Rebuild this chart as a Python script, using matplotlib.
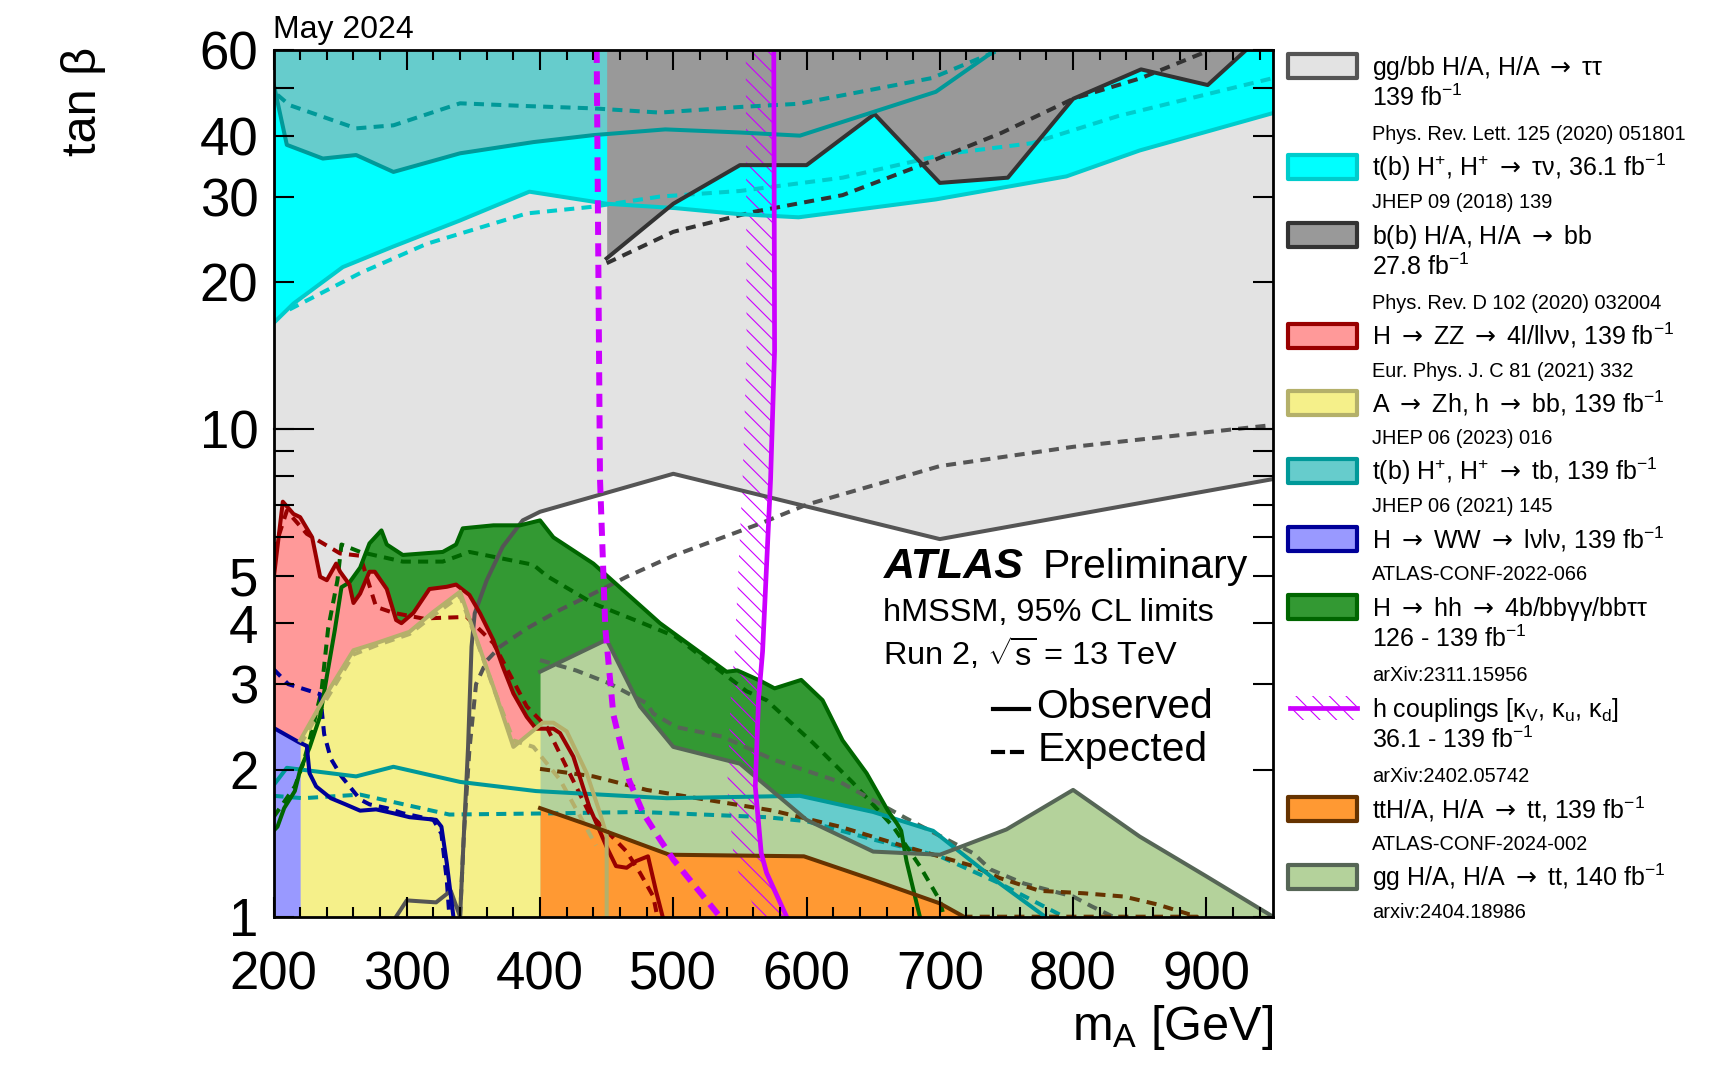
import numpy as np
import matplotlib
matplotlib.use("Agg")
import matplotlib.pyplot as plt
import matplotlib.transforms as mtransforms
from matplotlib.patches import Rectangle
from matplotlib.lines import Line2D
from matplotlib.ticker import FixedLocator, MultipleLocator, NullFormatter

plt.rcParams["font.family"] = ["Liberation Sans", "DejaVu Sans"]
plt.rcParams["mathtext.fontset"] = "custom"
plt.rcParams["mathtext.rm"] = "Liberation Sans"
plt.rcParams["mathtext.it"] = "Liberation Sans:italic"
plt.rcParams["mathtext.bf"] = "Liberation Sans:bold"
plt.rcParams["mathtext.sf"] = "DejaVu Sans"
plt.rcParams["hatch.linewidth"] = 0.8
plt.rcParams["hatch.color"] = "#cc00ff"

# ----------------------------------------------------------
# Exclusion contours (m_A [GeV], tan beta)
# ----------------------------------------------------------

# gg/bb H/A -> tautau
tautau_obs_x = [292, 300, 322, 333, 340, 342.4, 346, 348.6, 351, 360, 372, 387, 400, 500, 700, 950]
tautau_obs_y = [1.0, 1.08, 1.07, 1.13, 1.0, 1.39, 2.23, 3.58, 4.19, 4.9, 5.74, 6.5, 6.77, 8.1, 5.95, 7.9]
tautau_exp_x = [340, 343, 347, 352, 360, 370, 390, 415, 440, 465, 500, 565, 600, 700, 800, 950]
tautau_exp_y = [1.0, 1.5, 2.2, 3.0, 3.35, 3.58, 3.9, 4.26, 4.6, 4.98, 5.5, 6.4, 7.0, 8.4, 9.2, 10.2]

# t(b)H+, H+ -> taunu
taunu_obs_x = [200, 215, 252, 290, 340, 392, 450, 502, 550, 594, 697, 795, 850, 950]
taunu_obs_y = [16.5, 18.1, 21.5, 23.7, 26.8, 30.7, 29.0, 28.4, 27.6, 27.2, 29.6, 33.0, 37.3, 44.5]
taunu_exp_x = [212, 265, 315, 390, 440, 490, 550, 627, 705, 769, 834, 950]
taunu_exp_y = [17.6, 20.9, 24.0, 27.7, 28.6, 30.0, 30.8, 32.8, 36.7, 38.6, 43.9, 52.5]

# b(b) H/A -> bb
bb_obs_x = [450, 500, 550, 600, 651, 700, 751, 800, 851, 901, 930]
bb_obs_y = [22.4, 29.0, 34.8, 34.8, 44.3, 32.0, 32.8, 47.6, 54.7, 50.8, 60.0]
bb_exp_x = [450, 500, 560, 627, 692, 746, 800, 851, 896, 903]
bb_exp_y = [21.9, 25.4, 27.9, 30.2, 35.3, 40.5, 47.6, 52.5, 58.9, 60.0]

# t(b)H+, H+ -> tb (high and low tan beta)
tb_high_obs_x = [200, 210, 237, 262, 290, 340, 395, 440, 494, 550, 595, 697, 742]
tb_high_obs_y = [51.2, 38.3, 35.9, 36.5, 33.7, 36.8, 38.8, 40.1, 41.2, 40.6, 40.0, 49.2, 60.0]
tb_high_exp_x = [203, 212, 262, 290, 340, 390, 440, 490, 550, 594, 694, 742]
tb_high_exp_y = [48.5, 46.2, 41.4, 42.0, 46.6, 46.0, 45.5, 44.6, 45.8, 46.5, 52.5, 59.5]
tb_low_obs_x = [200, 210, 262, 290, 340, 397, 495, 595, 650, 695, 745, 779]
tb_low_obs_y = [1.86, 2.02, 1.94, 2.03, 1.89, 1.81, 1.75, 1.77, 1.64, 1.5, 1.17, 1.0]
tb_low_exp_x = [200, 222, 265, 332, 415, 475, 570, 600, 650, 700, 745, 793]
tb_low_exp_y = [1.77, 1.75, 1.78, 1.62, 1.63, 1.64, 1.60, 1.57, 1.44, 1.33, 1.17, 1.0]

# H -> ZZ
zz_obs_x = [200, 207, 215, 220, 229, 235, 240, 247, 250, 257, 260, 265, 272, 276, 285, 292, 296,
            305, 317, 330, 337, 347, 355, 365, 372, 380, 390, 397, 410, 415, 425, 437, 450, 457,
            465, 472, 481, 487, 492]
zz_obs_y = [4.9, 7.1, 6.7, 6.6, 6.0, 4.98, 4.9, 5.3, 5.1, 4.8, 4.4, 4.6, 5.1, 5.1, 4.7, 4.06, 4.0,
            4.2, 4.7, 4.75, 4.8, 4.57, 4.19, 3.69, 3.26, 2.87, 2.57, 2.43, 2.43, 2.38, 2.13, 1.68, 1.39, 1.27,
            1.26, 1.30, 1.33, 1.13, 1.0]
zz_exp_x = [200, 210, 225, 250, 265, 277, 290, 312, 345, 365, 390, 405, 437, 465, 475, 485, 488]
zz_exp_y = [5.6, 6.8, 6.1, 5.56, 5.5, 4.32, 4.2, 4.09, 4.12, 3.64, 2.7, 2.45, 1.63, 1.36, 1.23, 1.1, 1.0]

# A -> Zh
zh_obs_x = [220, 240, 260, 277, 302, 320, 340, 350, 365, 380, 395, 402, 410, 420, 435, 445, 450, 450]
zh_obs_y = [2.3, 2.87, 3.52, 3.64, 3.84, 4.22, 4.64, 3.87, 2.96, 2.23, 2.41, 2.5, 2.5, 2.4, 1.97, 1.63, 1.47, 1.0]
zh_exp_x = [220, 240, 260, 277, 302, 320, 340, 350, 365, 380, 395, 415, 442]
zh_exp_y = [2.25, 2.8, 3.45, 3.6, 3.8, 4.15, 4.55, 3.85, 2.95, 2.3, 2.23, 1.91, 1.4]

# H -> WW
ww_obs_x = [200, 219, 225, 227, 232, 243, 254, 265, 277, 290, 302, 322, 326, 330, 335]
ww_obs_y = [2.44, 2.28, 2.24, 1.97, 1.85, 1.75, 1.70, 1.65, 1.66, 1.63, 1.60, 1.58, 1.53, 1.29, 1.0]
ww_exp_x = [200, 211, 235, 238, 243, 251, 265, 272, 285, 297, 320, 326, 330, 332]
ww_exp_y = [3.22, 3.0, 2.86, 2.37, 2.11, 1.94, 1.74, 1.70, 1.67, 1.63, 1.58, 1.48, 1.19, 1.0]

# H -> hh
hh_obs_x = [200, 203, 208, 216, 220, 227, 235, 240, 246, 251, 257, 265, 272, 281, 285, 297, 327,
            337, 342, 365, 385, 400, 410, 440, 490, 540, 548, 565, 576, 596, 612, 627, 645, 661,
            668, 671, 675, 685]
hh_obs_y = [1.5, 1.53, 1.67, 1.81, 2.0, 2.22, 2.58, 3.11, 3.87, 4.74, 4.85, 5.2, 5.83, 6.2, 5.8, 5.52, 5.6,
            5.8, 6.26, 6.35, 6.35, 6.5, 6.0, 5.3, 4.0, 3.18, 3.2, 3.05, 2.94, 3.06, 2.78, 2.3, 1.97, 1.65,
            1.55, 1.5, 1.3, 1.0]
hh_exp_x = [200, 208, 216, 222, 227, 236, 241, 248, 251, 265, 297, 327, 347, 395, 405, 440, 477,
            502, 555, 570, 605, 635, 665, 685, 700, 703]
hh_exp_y = [1.6, 1.72, 1.85, 2.05, 2.3, 2.9, 3.9, 4.9, 5.8, 5.6, 5.35, 5.35, 5.6, 5.27, 5.0, 4.39, 4.0,
            3.75, 2.9, 2.78, 2.27, 1.88, 1.53, 1.27, 1.08, 1.0]

# h couplings
hc_obs_y = [60, 14.5, 7.9, 3.5, 2.8, 1.85, 1.35, 1.23, 1.0]
hc_obs_x = [575.4, 576, 573, 567, 564, 561.5, 566, 570, 585]
hc_exp_y = [60, 7.9, 3.9, 2.6, 1.9, 1.63, 1.44, 1.31, 1.0]
hc_exp_x = [442.5, 445, 449, 455, 467, 477.5, 490, 500, 535]

# ttH/A, H/A -> tt
tth_obs_x = [400, 440, 475, 497, 598, 650, 700, 718]
tth_obs_y = [1.67, 1.53, 1.41, 1.34, 1.33, 1.19, 1.065, 1.0]
tth_exp_x = [400, 440, 480, 575, 625, 675, 725, 745, 775, 808, 838, 863, 893, 720]
tth_exp_y = [2.01, 1.94, 1.82, 1.65, 1.53, 1.39, 1.27, 1.2, 1.13, 1.117, 1.10, 1.06, 1.0, 1.0]

# gg H/A, H/A -> tt
ggtt_obs_x = [400, 450, 475, 500, 550, 600, 650, 700, 750, 800, 850, 900, 950]
ggtt_obs_y = [3.18, 3.7, 2.7, 2.23, 2.06, 1.58, 1.36, 1.34, 1.51, 1.82, 1.46, 1.21, 1.0]
ggtt_exp_x = [400, 427, 452, 480, 485, 502, 537, 575, 625, 675, 725, 738, 763, 800, 814, 830]
ggtt_exp_y = [3.36, 3.2, 3.01, 2.74, 2.61, 2.45, 2.34, 2.1, 1.89, 1.59, 1.35, 1.25, 1.17, 1.1, 1.05, 1.0]

x_ticks = [200, 300, 400, 500, 600, 700, 800, 900]
y_ticks = [1, 2, 3, 4, 5, 10, 20, 30, 40, 60]
y_minor = [6, 7, 8, 9, 50]

# ----------------------------------------------------------
# Styles
# ----------------------------------------------------------
TMAX = 60
DASH = (0, (2.5, 1.8))
LW = 2.9
ARR = r"$\mathsf{\rightarrow}$"

c_tautau = ("#e3e3e3", "#555555")
c_taunu = ("#00ffff", "#00cccc")
c_bb = ("#999999", "#333333")
c_zz = ("#ff9999", "#990000")
c_zh = ("#f5f08a", "#b4b06a")
c_tb = ("#66cccc", "#009999")
c_ww = ("#9999ff", "#000099")
c_hh = ("#339933", "#006600")
c_hc = "#cc00ff"
c_tth = ("#ff9933", "#663300")
c_ggtt = ("#b4d29b", "#566656")

W, H = 1736, 1069
fig = plt.figure(figsize=(W / 100, H / 100), dpi=100)
ax = fig.add_axes([273.5 / W, 1 - 916.7 / H, (1273 - 273.5) / W, (916.7 - 49.8) / H])
ax.set_axisbelow(False)


def fx(px):
    return px / W


def fy(py):
    return 1 - py / H


ax.set_yscale("log")
ax.set_xlim(200, 950)
ax.set_ylim(1, TMAX)

# --- filled regions (drawing order matters; all kept below the axis ticks) ---
ax.fill_between(np.r_[200, tautau_obs_x], np.r_[1, tautau_obs_y], TMAX, color=c_tautau[0], lw=0, zorder=0.10)
ax.fill_between(hh_obs_x, 1, hh_obs_y, color=c_hh[0], lw=0, zorder=0.20)
ax.fill_between(tb_low_obs_x, 1, tb_low_obs_y, color=c_tb[0], lw=0, zorder=0.25)
ax.fill_between(zz_obs_x, 1, zz_obs_y, color=c_zz[0], lw=0, zorder=0.30)
ax.fill_between(ww_obs_x, 1, ww_obs_y, color=c_ww[0], lw=0, zorder=0.35)
ax.fill_between(zh_obs_x, 1, zh_obs_y, color=c_zh[0], lw=0, zorder=0.40)
ax.fill_between(ggtt_obs_x, 1, ggtt_obs_y, color=c_ggtt[0], lw=0, zorder=0.45)
ax.fill_between(tth_obs_x, 1, tth_obs_y, color=c_tth[0], lw=0, zorder=0.50)
ax.fill_between(taunu_obs_x, taunu_obs_y, TMAX, color=c_taunu[0], lw=0, zorder=0.20)
ax.fill_between(tb_high_obs_x, tb_high_obs_y, TMAX, color=c_tb[0], lw=0, zorder=0.25)
ax.fill_between(bb_obs_x, bb_obs_y, TMAX, color=c_bb[0], lw=0, zorder=0.30)

# h couplings: hatched band on the excluded side of the observed line
hcx = np.array(hc_obs_x)
ax.fill_betweenx(hc_obs_y, hcx - 21, hcx, facecolor="none", edgecolor=c_hc,
                 hatch="\\\\", lw=0, zorder=0.6)

# --- contour lines ---
lines = [
    (tautau_obs_x, tautau_obs_y, tautau_exp_x, tautau_exp_y, c_tautau[1]),
    (taunu_obs_x, taunu_obs_y, taunu_exp_x, taunu_exp_y, c_taunu[1]),
    (bb_obs_x, bb_obs_y, bb_exp_x, bb_exp_y, c_bb[1]),
    (tb_high_obs_x, tb_high_obs_y, tb_high_exp_x, tb_high_exp_y, c_tb[1]),
    (tb_low_obs_x, tb_low_obs_y, tb_low_exp_x, tb_low_exp_y, c_tb[1]),
    (hh_obs_x, hh_obs_y, hh_exp_x, hh_exp_y, c_hh[1]),
    (zz_obs_x, zz_obs_y, zz_exp_x, zz_exp_y, c_zz[1]),
    (ww_obs_x, ww_obs_y, ww_exp_x, ww_exp_y, c_ww[1]),
    (zh_obs_x, zh_obs_y, zh_exp_x, zh_exp_y, c_zh[1]),
    (ggtt_obs_x, ggtt_obs_y, ggtt_exp_x, ggtt_exp_y, c_ggtt[1]),
    (tth_obs_x, tth_obs_y, tth_exp_x, tth_exp_y, c_tth[1]),
]
for ox, oy, ex, ey, col in lines:
    ax.plot(ex, ey, color=col, lw=LW, ls=DASH, zorder=0.7)
    ax.plot(ox, oy, color=col, lw=LW, zorder=0.75)

ax.plot(hc_exp_x, hc_exp_y, color=c_hc, lw=4.3, ls=(0, (2.2, 1.4)), zorder=0.8)
ax.plot(hc_obs_x, hc_obs_y, color=c_hc, lw=3.4, zorder=0.8)

# --- axes style ---
for s in ax.spines.values():
    s.set_linewidth(2.0)
ax.xaxis.set_major_locator(FixedLocator(x_ticks))
ax.xaxis.set_minor_locator(MultipleLocator(20))
ax.yaxis.set_major_locator(FixedLocator(y_ticks))
ax.yaxis.set_minor_locator(FixedLocator(y_minor))
ax.yaxis.set_minor_formatter(NullFormatter())
ax.set_xticklabels([str(v) for v in x_ticks])
ax.set_yticklabels([str(v) for v in y_ticks])
ax.tick_params(axis="both", which="both", direction="in", top=True, right=True,
               width=1.5, labelsize=38)
ax.tick_params(axis="x", which="major", length=14.4, pad=24)
ax.tick_params(axis="x", which="minor", length=7.2)
ax.tick_params(axis="y", which="both", length=14.4, pad=11)
trans = mtransforms.blended_transform_factory(ax.transAxes, ax.transData)
for x0, x1 in [(0, 0.04), (0.96, 1.0)]:
    ax.plot([x0, x1], [10, 10], color="black", lw=1.5, transform=trans, clip_on=False, zorder=3)

fig.text(fx(1273), fy(1040), r"m$_{\mathrm{A}}$ [GeV]", fontsize=35, ha="right", va="baseline")
fig.text(fx(84), fy(47), "tan β", fontsize=35, rotation=90, ha="center", va="top")
fig.text(fx(273), fy(38), "May 2024", fontsize=23, ha="left", va="baseline")

# --- ATLAS label ---
fig.text(fx(884), fy(578), "ATLAS", fontsize=31, fontweight="bold", fontstyle="italic", va="baseline")
fig.text(fx(1043), fy(578), "Preliminary", fontsize=29.5, va="baseline")
fig.text(fx(883), fy(621), "hMSSM, 95% CL limits", fontsize=23.4, va="baseline")
fig.text(fx(883), fy(665), r"Run 2, $\sqrt{\mathrm{s}}$ = 13 TeV", fontsize=23.4, va="baseline")
fig.add_artist(Line2D([fx(993), fx(1029)], [fy(709), fy(709)], color="black", lw=3))
fig.text(fx(1036), fy(718), "Observed", fontsize=29.3, va="baseline")
for a, b in [(993, 1003), (1012, 1022)]:
    fig.add_artist(Line2D([fx(a), fx(b)], [fy(752), fy(752)], color="black", lw=3))
fig.text(fx(1038), fy(761), "Expected", fontsize=29.3, va="baseline")

# --- legend ---
legend_rows = [
    (c_tautau, [f"gg/bb H/A, H/A {ARR} ττ", "139 fb$^{-1}$"], "Phys. Rev. Lett. 125 (2020) 051801"),
    (c_taunu, [f"t(b) H$^{{+}}$, H$^{{+}}$ {ARR} τν, 36.1 fb$^{{-1}}$"], "JHEP 09 (2018) 139"),
    (c_bb, [f"b(b) H/A, H/A {ARR} bb", "27.8 fb$^{-1}$"], "Phys. Rev. D 102 (2020) 032004"),
    (c_zz, [f"H {ARR} ZZ {ARR} 4l/llνν, 139 fb$^{{-1}}$"], "Eur. Phys. J. C 81 (2021) 332"),
    (c_zh, [f"A {ARR} Zh, h {ARR} bb, 139 fb$^{{-1}}$"], "JHEP 06 (2023) 016"),
    (c_tb, [f"t(b) H$^{{+}}$, H$^{{+}}$ {ARR} tb, 139 fb$^{{-1}}$"], "JHEP 06 (2021) 145"),
    (c_ww, [f"H {ARR} WW {ARR} lνlν, 139 fb$^{{-1}}$"], "ATLAS-CONF-2022-066"),
    (c_hh, [f"H {ARR} hh {ARR} 4b/bbγγ/bbττ", "126 - 139 fb$^{-1}$"], "arXiv:2311.15956"),
    (None, [r"h couplings [κ$_{\mathrm{V}}$, κ$_{\mathrm{u}}$, κ$_{\mathrm{d}}$]", "36.1 - 139 fb$^{-1}$"],
     "arXiv:2402.05742"),
    (c_tth, [f"ttH/A, H/A {ARR} tt, 139 fb$^{{-1}}$"], "ATLAS-CONF-2024-002"),
    (c_ggtt, [f"gg H/A, H/A {ARR} tt, 140 fb$^{{-1}}$"], "arxiv:2404.18986"),
]
row_y = [66, 167, 235, 336, 403, 471, 539, 607, 708, 809, 877]

for (cols, text_lines, ref), yc in zip(legend_rows, row_y):
    if cols is None:
        fig.add_artist(Rectangle((fx(1290), fy(720)), fx(67), 24 / H, transform=fig.transFigure,
                                 facecolor="none", edgecolor=c_hc, hatch="\\\\", lw=0))
        fig.add_artist(Line2D([fx(1290), fx(1357)], [fy(yc), fy(yc)], color=c_hc, lw=3.4))
    else:
        fig.add_artist(Rectangle((fx(1288), fy(yc + 12)), fx(69), 24 / H, transform=fig.transFigure,
                                 facecolor=cols[0], edgecolor=cols[1], lw=3, joinstyle="round"))
    for k, t in enumerate(text_lines):
        fig.text(fx(1372), fy(yc + 9 + 31 * k), t, fontsize=18, va="baseline")
    ref_y = yc + (68 if len(text_lines) == 2 else 35) + 6
    fig.text(fx(1372), fy(ref_y), ref, fontsize=14.4, va="baseline")

fig.savefig("out.png", dpi=100, facecolor="white")
